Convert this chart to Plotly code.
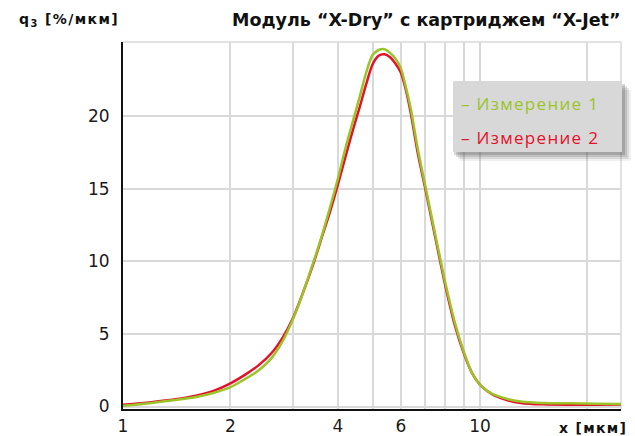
import plotly.graph_objects as go

# Particle size (µm) and density distribution q3 (%/µm) for two measurements
size_um = [1.0, 1.2, 1.4, 1.6, 1.8, 2.0, 2.2, 2.4, 2.6, 2.8, 3.0, 3.2, 3.4, 3.6,
           3.8, 4.0, 4.2, 4.4, 4.6, 4.8, 5.0, 5.2, 5.4, 5.6, 5.8, 6.0, 6.2, 6.4,
           6.7, 7.0, 7.5, 8.0, 8.5, 9.0, 9.5, 10.0, 10.5, 11.0, 12.0, 13.0, 15.0,
           18.0, 21.0, 25.0]
q3_run1 = [0.05, 0.25, 0.45, 0.65, 0.95, 1.33, 1.9, 2.5, 3.3, 4.5, 6.08, 7.9, 9.8,
           11.7, 13.7, 15.7, 17.8, 19.6, 21.3, 23.0, 24.2, 24.55, 24.6, 24.35,
           23.95, 23.3, 22.0, 20.5, 17.7, 15.4, 11.8, 8.5, 5.8, 3.8, 2.3, 1.5,
           1.05, 0.8, 0.5, 0.35, 0.25, 0.22, 0.2, 0.18]
q3_run2 = [0.12, 0.3, 0.5, 0.75, 1.1, 1.6, 2.2, 2.85, 3.65, 4.75, 6.15, 7.9, 9.7,
           11.6, 13.4, 15.3, 17.2, 19.0, 20.6, 22.2, 23.55, 24.15, 24.25, 24.05,
           23.6, 23.0, 21.8, 20.2, 17.4, 15.2, 11.6, 8.3, 5.6, 3.7, 2.3, 1.5,
           1.05, 0.75, 0.42, 0.25, 0.15, 0.12, 0.12, 0.14]

series_names = ["Измерение 1", "Измерение 2"]
x_tickvals = [1, 2, 3, 4, 5, 6, 7, 8, 9, 10, 20]
x_ticktext = ["1", "2", "", "4", "", "6", "", "", "", "10", ""]
y_tickvals = [0, 5, 10, 15, 20]

GREEN = "#9bc42a"
RED = "#e3122a"
GRID = "#d9d9d9"

# plot area in pixels
L, R, T, B = 123, 621, 42, 409
W, H = 635, 436

fig = go.Figure()
fig.add_trace(go.Scatter(x=size_um, y=q3_run2, mode="lines", name=series_names[1],
                         line=dict(color=RED, width=2.5, shape="spline", smoothing=0.8)))
fig.add_trace(go.Scatter(x=size_um, y=q3_run1, mode="lines", name=series_names[0],
                         line=dict(color=GREEN, width=2.5, shape="spline", smoothing=0.8)))

tick_font = dict(family="DejaVu Sans", size=17, color="#1a1a1a")

fig.update_layout(
    width=W, height=H,
    margin=dict(l=L, r=W - R, t=T, b=H - B),
    paper_bgcolor="white", plot_bgcolor="white",
    showlegend=False,
    xaxis=dict(type="log", range=[0, 1.395], tickmode="array",
               tickvals=x_tickvals, ticktext=x_ticktext,
               showgrid=True, gridcolor=GRID, gridwidth=1.5,
               showline=True, linecolor="#111111", linewidth=2,
               ticks="", tickfont=tick_font, ticklabelstandoff=1,
               zeroline=False, automargin=False),
    yaxis=dict(range=[-0.17, 25.1], tickmode="array", tickvals=y_tickvals,
               showgrid=True, gridcolor=GRID, gridwidth=1.5,
               showline=True, linecolor="#111111", linewidth=2,
               ticks="", tickfont=tick_font, ticklabelstandoff=8,
               zeroline=False, automargin=False),
)

# light frame on the top and right sides of the plot area
fig.add_shape(type="line", xref="paper", yref="paper", x0=0, x1=1, y0=1, y1=1,
              line=dict(color=GRID, width=1.5), layer="below")
fig.add_shape(type="line", xref="paper", yref="paper", x0=1, x1=1, y0=0, y1=1,
              line=dict(color=GRID, width=1.5), layer="below")


def px_to_paper(px, py):
    return (px - L) / (R - L), (B - py) / (B - T)


# legend panel with soft shadow
for off, op in [(9, 0.08), (7, 0.12), (5, 0.16), (3, 0.20)]:
    x0, y0 = px_to_paper(453 + off - 2, 81 + off)
    x1, y1 = px_to_paper(622 + off, 152 + off)
    fig.add_shape(type="rect", xref="paper", yref="paper", x0=x0, x1=x1, y0=y0, y1=y1,
                  fillcolor=f"rgba(60,60,60,{op})", line=dict(width=0))
x0, y0 = px_to_paper(453, 81)
x1, y1 = px_to_paper(622, 152)
fig.add_shape(type="rect", xref="paper", yref="paper", x0=x0, x1=x1, y0=y0, y1=y1,
              fillcolor="#d8d8d8", line=dict(width=0))

for name, color, py in [(series_names[0], GREEN, 103), (series_names[1], RED, 137)]:
    lx, ly = px_to_paper(459, py)
    fig.add_annotation(xref="paper", yref="paper", x=lx, y=ly, xanchor="left",
                       yanchor="middle", showarrow=False,
                       text="<span style='letter-spacing:1.3px'>– " + name + "</span>",
                       font=dict(family="Open Sans", size=17, color=color))

# titles
tx, ty = px_to_paper(622, 20)
fig.add_annotation(xref="paper", yref="paper", x=tx, y=ty,
                   xanchor="right", yanchor="middle", showarrow=False,
                   text="Модуль “X-Dry” с картриджем “X-Jet”",
                   font=dict(family="DejaVu Sans", size=17.5, color="#111111", weight="bold"))
qx, qy = px_to_paper(17, 20)
fig.add_annotation(xref="paper", yref="paper", x=qx, y=qy,
                   xanchor="left", yanchor="middle", showarrow=False,
                   text="<span style='letter-spacing:1.4px'>q<sub>3</sub> [%/мкм]</span>",
                   font=dict(family="DejaVu Sans", size=14, color="#111111", weight="bold"))
ux, uy = px_to_paper(629, 428)
fig.add_annotation(xref="paper", yref="paper", x=ux, y=uy,
                   xanchor="right", yanchor="middle", showarrow=False,
                   text="<span style='letter-spacing:1.3px'>x [мкм]</span>",
                   font=dict(family="DejaVu Sans", size=14, color="#111111", weight="bold"))

fig.write_html("out.html")
